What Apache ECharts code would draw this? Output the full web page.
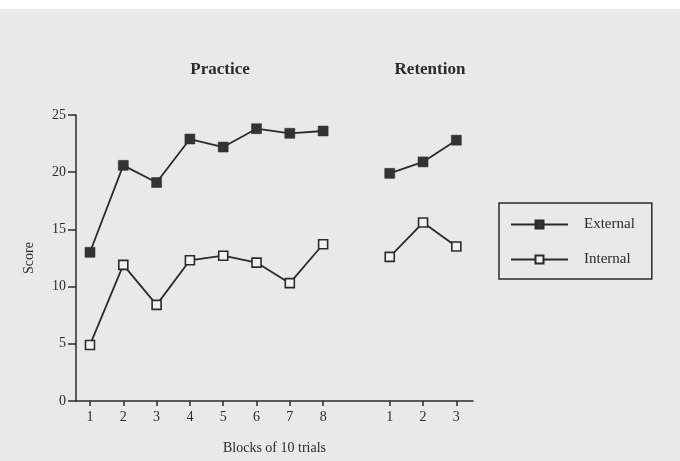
<!DOCTYPE html>
<html>
<head>
<meta charset="utf-8">
<script src="https://cdn.jsdelivr.net/npm/echarts@6/dist/echarts.min.js"></script>
<style>html,body{margin:0;padding:0;background:#e9e9e9;}#c{width:680px;height:461px;}</style>
</head>
<body>
<div id="c"></div>
<script>
// Data
const practiceBlocks = ['1','2','3','4','5','6','7','8'];
const retentionBlocks = ['1','2','3'];
const externalPractice = [13.0, 20.6, 19.1, 22.9, 22.2, 23.8, 23.4, 23.6];
const internalPractice = [4.9, 11.9, 8.4, 12.3, 12.7, 12.1, 10.3, 13.7];
const externalRetention = [19.9, 20.9, 22.8];
const internalRetention = [12.6, 15.6, 13.5];
const yTicks = [0, 5, 10, 15, 20, 25];

// Positions on x: practice blocks at 1..8, gap at 9, retention at 10..12
const xPos = [];
const xLabel = {};
practiceBlocks.forEach((b, i) => { xPos.push(i + 1); xLabel[i + 1] = b; });
const retStart = practiceBlocks.length + 2;
retentionBlocks.forEach((b, i) => { xPos.push(retStart + i); xLabel[retStart + i] = b; });

function buildSeries(prac, ret) {
  const d = [];
  prac.forEach((v, i) => d.push([i + 1, v]));
  d.push([practiceBlocks.length + 1, null]);
  ret.forEach((v, i) => d.push([retStart + i, v]));
  return d;
}

const ink = '#2b2b2b';
const serif = '"Liberation Serif", "DejaVu Serif", serif';

const chart = echarts.init(document.getElementById('c'), null, {renderer: 'canvas'});
chart.setOption({
  backgroundColor: '#e9e9e9',
  animation: false,
  textStyle: {fontFamily: serif, color: ink},
  graphic: [
    {type: 'rect', left: 0, top: 0, shape: {width: 680, height: 9}, style: {fill: '#ffffff'}, silent: true},
    {type: 'text', x: 220, y: 70, style: {text: 'Practice', font: 'bold 17px ' + serif, fill: ink, textAlign: 'center', textVerticalAlign: 'middle'}},
    {type: 'text', x: 430, y: 70, style: {text: 'Retention', font: 'bold 17px ' + serif, fill: ink, textAlign: 'center', textVerticalAlign: 'middle'}}
  ],
  grid: {left: 76, right: 207, top: 115, bottom: 60, containLabel: false},
  legend: {
    orient: 'vertical',
    left: 499, top: 203,
    borderColor: ink, borderWidth: 1.5, borderRadius: 0,
    padding: [14, 17, 12, 11],
    itemWidth: 57, itemHeight: 10, itemGap: 20,
    textStyle: {fontFamily: serif, fontSize: 15, color: ink, padding: [0, 0, 0, 11]},
    data: ['External', 'Internal']
  },
  xAxis: {
    type: 'value',
    min: 0.58, max: 12.5,
    name: 'Blocks of 10 trials',
    nameLocation: 'middle', nameGap: 40,
    nameTextStyle: {fontFamily: serif, fontSize: 14, color: ink},
    splitLine: {show: false},
    axisLine: {show: true, onZero: false, lineStyle: {color: ink, width: 1.5}},
    axisTick: {show: true, length: 5, inside: false, lineStyle: {color: ink, width: 1.5}, customValues: xPos},
    axisLabel: {fontFamily: serif, fontSize: 14, color: ink, margin: 9, customValues: xPos, formatter: v => xLabel[v] || ''}
  },
  yAxis: {
    type: 'value',
    min: 0, max: 25, interval: 5,
    name: 'Score',
    nameLocation: 'middle', nameGap: 40, nameRotate: 90,
    nameTextStyle: {fontFamily: serif, fontSize: 14, color: ink},
    splitLine: {show: false},
    axisLine: {show: true, lineStyle: {color: ink, width: 1.5}},
    axisTick: {show: true, length: 8, lineStyle: {color: ink, width: 1.5}},
    axisLabel: {fontFamily: serif, fontSize: 14, color: ink, margin: 10, customValues: yTicks}
  },
  series: [
    {
      name: 'External', type: 'line',
      data: buildSeries(externalPractice, externalRetention),
      connectNulls: false,
      symbol: 'rect', symbolSize: 10,
      lineStyle: {color: ink, width: 1.8},
      itemStyle: {color: '#333333', borderColor: ink, borderWidth: 0.5},
      z: 3
    },
    {
      name: 'Internal', type: 'line',
      data: buildSeries(internalPractice, internalRetention),
      connectNulls: false,
      symbol: 'rect', symbolSize: 9,
      lineStyle: {color: ink, width: 1.8},
      itemStyle: {color: '#f2f2f2', borderColor: ink, borderWidth: 1.6},
      z: 3
    }
  ]
});
</script>
</body>
</html>
